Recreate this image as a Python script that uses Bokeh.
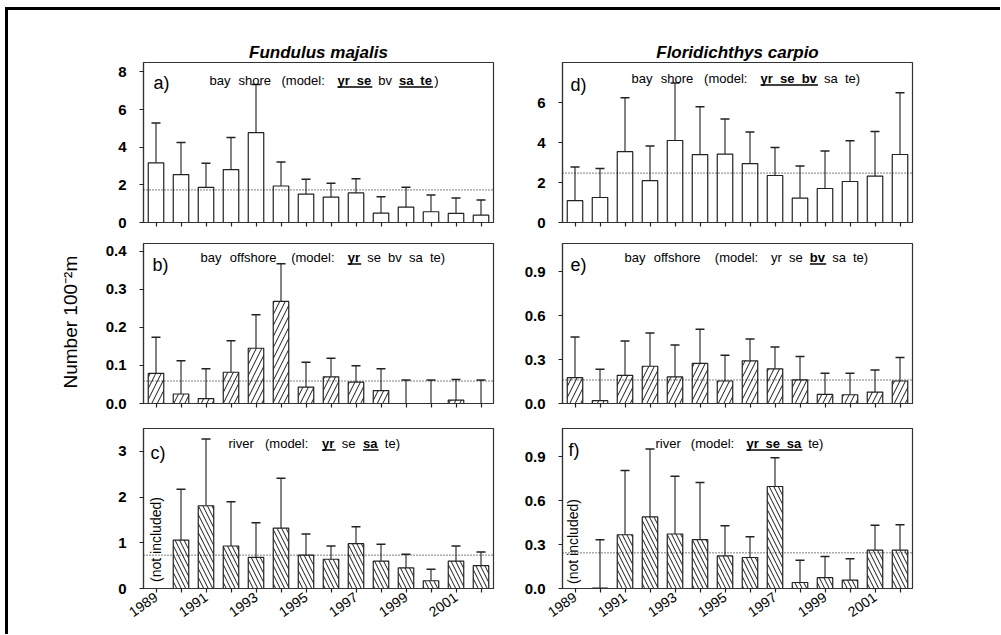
import math
from bokeh.plotting import figure
from bokeh.layouts import row, column
from bokeh.models import Range1d, FixedTicker, Span, Label, Title
from bokeh.embed import file_html
from bokeh.resources import INLINE

# ---------------- data ----------------
years = [1989, 1990, 1991, 1992, 1993, 1994, 1995, 1996, 1997, 1998, 1999, 2000, 2001, 2002]
river_years = [1990, 1991, 1992, 1993, 1994, 1995, 1996, 1997, 1998, 1999, 2000, 2001, 2002]
tick_years = [1989, 1990, 1991, 1992, 1993, 1994, 1995, 1996, 1997, 1998, 1999, 2000, 2001, 2002]
tick_year_labels = ["1989", "", "1991", "", "1993", "", "1995", "", "1997", "", "1999", "", "2001", ""]

species = ["Fundulus majalis", "Floridichthys carpio"]
y_title = "Number 100\u207b\u00b2m"

# Fundulus majalis
fm_shore_mean = [3.17, 2.54, 1.87, 2.81, 4.77, 1.94, 1.51, 1.35, 1.57, 0.50, 0.82, 0.57, 0.48, 0.39]
fm_shore_upper = [5.28, 4.25, 3.15, 4.52, 7.33, 3.22, 2.30, 2.08, 2.33, 1.37, 1.87, 1.46, 1.30, 1.19]
fm_shore_ref = 1.73
fm_off_mean = [0.079, 0.025, 0.013, 0.082, 0.145, 0.268, 0.043, 0.070, 0.056, 0.034, 0.0, 0.0, 0.009, 0.0]
fm_off_upper = [0.174, 0.112, 0.091, 0.165, 0.233, 0.367, 0.108, 0.119, 0.099, 0.091, 0.062, 0.062, 0.063, 0.062]
fm_off_ref = 0.059
fm_river_mean = [1.06, 1.81, 0.93, 0.68, 1.32, 0.73, 0.64, 0.98, 0.60, 0.45, 0.17, 0.60, 0.50]
fm_river_upper = [2.17, 3.27, 1.90, 1.44, 2.41, 1.19, 0.93, 1.35, 0.97, 0.75, 0.42, 0.93, 0.80]
fm_river_ref = 0.73

# Floridichthys carpio
fc_shore_mean = [1.09, 1.25, 3.54, 2.09, 4.10, 3.39, 3.42, 2.94, 2.35, 1.22, 1.70, 2.05, 2.32, 3.40]
fc_shore_upper = [2.77, 2.70, 6.24, 3.82, 6.97, 5.79, 5.17, 4.52, 3.75, 2.82, 3.57, 4.09, 4.55, 6.49]
fc_shore_ref = 2.47
fc_off_mean = [0.177, 0.019, 0.193, 0.255, 0.182, 0.274, 0.154, 0.292, 0.237, 0.161, 0.062, 0.060, 0.078, 0.154]
fc_off_upper = [0.455, 0.235, 0.428, 0.483, 0.400, 0.508, 0.331, 0.441, 0.386, 0.322, 0.207, 0.207, 0.230, 0.315]
fc_off_ref = 0.161
fc_river_mean = [0.002, 0.368, 0.490, 0.373, 0.334, 0.223, 0.212, 0.698, 0.041, 0.074, 0.058, 0.262, 0.262]
fc_river_upper = [0.334, 0.808, 0.955, 0.769, 0.725, 0.430, 0.355, 0.895, 0.193, 0.219, 0.203, 0.433, 0.437]
fc_river_ref = 0.244

ticks_a = [0, 2, 4, 6, 8]
ticks_a_labels = ["0", "2", "4", "6", "8"]
ticks_b = [0.0, 0.1, 0.2, 0.3, 0.4]
ticks_b_labels = ["0.0", "0.1", "0.2", "0.3", "0.4"]
ticks_c = [0, 1, 2, 3]
ticks_c_labels = ["0", "1", "2", "3"]
ticks_d = [0, 2, 4, 6]
ticks_d_labels = ["0", "2", "4", "6"]
ticks_ef = [0.0, 0.3, 0.6, 0.9]
ticks_ef_labels = ["0.0", "0.3", "0.6", "0.9"]

# ---------------- layout constants ----------------
FONT = "Liberation Sans"
FW, FH = 350, 160
X0, X1 = 1988.5, 2002.5
PPX = FW / (X1 - X0)
ORIGIN_X = 8           # 5px margin + 3px frame line
ORIGIN_Y = 10          # 7px margin + 3px frame line
COL_L = [143, 562]     # frame left (page px)
ROW_T = [62, 243, 428] # frame top (page px)

NORM_W = {' ': 278, '(': 333, ')': 333, ':': 278, 'a': 556, 'b': 556, 'c': 500, 'd': 556,
          'e': 556, 'f': 278, 'h': 556, 'i': 222, 'l': 222, 'm': 833, 'n': 556, 'o': 556,
          'r': 333, 's': 500, 't': 278, 'u': 556, 'v': 500, 'y': 500}
BOLD_W = {' ': 278, 'a': 556, 'b': 611, 'e': 556, 'r': 389, 's': 556, 't': 333, 'v': 556, 'y': 556}


def tw(s, bold, fs):
    t = BOLD_W if bold else NORM_W
    return sum(t.get(ch, 556) for ch in s) * fs / 1000.0


class Geo:
    def __init__(self, L, T, ymax):
        self.L, self.T, self.ymax = L, T, ymax

    def x(self, px):
        return X0 + (px - self.L) / PPX

    def y(self, py):
        return self.ymax * (self.T + FH - py) / FH


def make_panel(geo, yticks, ylabels, lb, rb, tb, bb, show_x_labels, title=None):
    p = figure(frame_width=FW, frame_height=FH, x_range=Range1d(X0, X1),
               y_range=Range1d(0, geo.ymax), output_backend="svg", toolbar_location=None,
               title=title, min_border_left=lb, min_border_right=rb,
               min_border_top=tb, min_border_bottom=bb)
    p.grid.visible = False
    p.outline_line_color = "#333333"
    p.outline_line_width = 1.2
    p.background_fill_color = "white"
    p.border_fill_color = "white"
    for ax in (p.xaxis[0], p.yaxis[0]):
        ax.axis_line_color = "#333333"
        ax.axis_line_width = 1.2
        ax.major_tick_line_color = "#222222"
        ax.major_tick_line_width = 1.2
        ax.major_tick_in = 0
        ax.major_tick_out = 4
        ax.minor_tick_line_color = None
    yax = p.yaxis[0]
    yax.ticker = FixedTicker(ticks=yticks)
    yax.major_label_overrides = {t: s for t, s in zip(yticks, ylabels)}
    yax.major_label_text_font = FONT
    yax.major_label_text_font_style = "bold"
    yax.major_label_text_font_size = "15px"
    yax.major_label_text_color = "black"
    yax.major_label_standoff = 13
    xax = p.xaxis[0]
    xax.ticker = FixedTicker(ticks=tick_years)
    if show_x_labels:
        xax.major_label_overrides = {t: s for t, s in zip(tick_years, tick_year_labels)}
        xax.major_label_text_font = FONT
        xax.major_label_text_font_size = "14px"
        xax.major_label_text_color = "black"
        xax.major_label_orientation = 0.61
        xax.major_label_standoff = 3
    else:
        xax.major_label_overrides = {t: "" for t in tick_years}
        xax.major_label_text_font_size = "1px"
        xax.major_label_standoff = 0
    if title is not None:
        p.title.text_font = FONT
        p.title.text_font_style = "bold italic"
        p.title.text_font_size = "17px"
        p.title.align = "center"
        p.title.text_color = "black"
        p.title.standoff = 2
    return p


def draw_bars(p, xs, means, uppers, ref, hatch=None, hscale=10):
    x0 = [x - 0.18 for x in xs]
    x1 = [x + 0.18 for x in xs]
    p.segment(x0=xs, y0=means, x1=xs, y1=uppers, line_color="#5a5a5a", line_width=1.5)
    p.segment(x0=x0, y0=uppers, x1=x1, y1=uppers, line_color="#222222", line_width=1.5)
    kw = dict(fill_color="white", line_color="#222222", line_width=1.2)
    if hatch:
        kw.update(hatch_pattern=hatch, hatch_color="black", hatch_scale=hscale, hatch_weight=0.9)
    p.vbar(x=xs, top=means, bottom=0, width=0.62, **kw)
    p.add_layout(Span(location=ref, dimension="width", line_color="black",
                      line_width=1, line_dash="1 2"))


MID = 0.32  # distance (em) from baseline up to the "middle" anchor


def add_letter(p, geo, txt, px, py, fs=18):
    p.add_layout(Label(x=geo.x(px), y=geo.y(py - MID * fs), text=txt, text_font=FONT,
                       text_font_size=f"{fs}px", text_color="black",
                       text_align="left", text_baseline="middle"))


def add_subtitle(p, geo, segments, x_start, x_end, baseline, fs=13):
    nchar = sum(len(s) for s, _ in segments)
    natural = sum(tw(s, b, fs) for s, b in segments)
    ls = (x_end - x_start - natural) / max(nchar - 1, 1)
    x = x_start
    ul0, ul1, uly = [], [], []

    def put(word, wx, bold):
        p.add_layout(Label(x=geo.x(wx), y=geo.y(baseline - MID * fs), text=word, text_font=FONT,
                           text_font_size=f"{fs}px", text_color="black",
                           text_font_style="bold" if bold else "normal",
                           text_align="left", text_baseline="middle"))

    for s, bold in segments:
        seg_start = x
        word, wx = "", x
        for ch in s:
            if ch == " ":
                if word:
                    put(word, wx, bold)
                word = ""
                x += tw(" ", bold, fs) + ls
            else:
                if not word:
                    wx = x
                word += ch
                x += tw(ch, bold, fs) + ls
        if word:
            put(word, wx, bold)
        if bold:
            ul0.append(geo.x(seg_start))
            ul1.append(geo.x(x - ls))
            uly.append(geo.y(baseline + 2.5))
    if ul0:
        p.segment(x0=ul0, y0=uly, x1=ul1, y1=uly, line_color="black", line_width=1.4)


def add_not_included(p, geo, px, py):
    p.add_layout(Label(x=geo.x(px), y=geo.y(py), text="(not included)", text_font=FONT,
                       text_font_size="14px", text_color="black", angle=math.pi / 2,
                       text_align="center", text_baseline="middle"))


# ---------------- panels ----------------
gA = Geo(COL_L[0], ROW_T[0], 8.5)
gB = Geo(COL_L[0], ROW_T[1], 0.42)
gC = Geo(COL_L[0], ROW_T[2], 3.5)
gD = Geo(COL_L[1], ROW_T[0], 8.0)
gE = Geo(COL_L[1], ROW_T[1], 1.095)
gF = Geo(COL_L[1], ROW_T[2], 1.095)

LB1 = COL_L[0] - ORIGIN_X
RB1 = 10
LB2 = COL_L[1] - (ORIGIN_X + LB1 + FW + RB1)
RB2 = 1000 - COL_L[1] - FW
TB1 = ROW_T[0] - ORIGIN_Y
BB1 = ROW_T[1] - (ROW_T[0] + FH)
BB2 = ROW_T[2] - (ROW_T[1] + FH)
BB3 = 634 - (ROW_T[2] + FH)

pa = make_panel(gA, ticks_a, ticks_a_labels, LB1, RB1, TB1, BB1, False, species[0])
pb = make_panel(gB, ticks_b, ticks_b_labels, LB1, RB1, 0, BB2, False)
pc = make_panel(gC, ticks_c, ticks_c_labels, LB1, RB1, 0, BB3, True)
pd = make_panel(gD, ticks_d, ticks_d_labels, LB2, RB2, TB1, BB1, False, species[1])
pe = make_panel(gE, ticks_ef, ticks_ef_labels, LB2, RB2, 0, BB2, False)
pf = make_panel(gF, ticks_ef, ticks_ef_labels, LB2, RB2, 0, BB3, True)

draw_bars(pa, years, fm_shore_mean, fm_shore_upper, fm_shore_ref)
draw_bars(pb, years, fm_off_mean, fm_off_upper, fm_off_ref, "right_diagonal_line", 11)
draw_bars(pc, river_years, fm_river_mean, fm_river_upper, fm_river_ref, "left_diagonal_line", 9)
draw_bars(pd, years, fc_shore_mean, fc_shore_upper, fc_shore_ref)
draw_bars(pe, years, fc_off_mean, fc_off_upper, fc_off_ref, "right_diagonal_line", 11)
draw_bars(pf, river_years, fc_river_mean, fc_river_upper, fc_river_ref, "left_diagonal_line", 9)

add_letter(pa, gA, "a)", 153, 88)
add_letter(pb, gB, "b)", 152, 270)
add_letter(pc, gC, "c)", 150, 458)
add_letter(pd, gD, "d)", 570, 90)
add_letter(pe, gE, "e)", 570, 270)
add_letter(pf, gF, "f)", 568, 455)

add_subtitle(pa, gA, [("bay shore (model: ", False), ("yr se", True), (" bv ", False),
                      ("sa te", True), (")", False)], 209, 438, 84)
add_subtitle(pb, gB, [("bay offshore (model: ", False), ("yr", True),
                      (" se bv sa te)", False)], 200, 447, 261)
add_subtitle(pc, gC, [("river (model: ", False), ("yr", True), (" se ", False),
                      ("sa", True), (" te)", False)], 228, 402, 447)
add_subtitle(pd, gD, [("bay shore (model: ", False), ("yr se bv", True),
                      (" sa te)", False)], 631, 862, 82)
add_subtitle(pe, gE, [("bay offshore (model: yr se ", False), ("bv", True),
                      (" sa te)", False)], 624, 870, 261)
add_subtitle(pf, gF, [("river (model: ", False), ("yr se sa", True),
                      (" te)", False)], 655, 825, 447)

add_not_included(pc, gC, 155, 539)
add_not_included(pf, gF, 572, 541)

# y-axis title, left of panel b (starts 15px above the frame bottom)
pb.add_layout(Title(text=y_title, align="left", offset=15, standoff=44,
                    text_font=FONT, text_font_size="19px", text_font_style="normal",
                    text_color="black"), "left")

layout = column(row(pa, pd), row(pb, pe), row(pc, pf),
                styles={"margin-top": "7px", "margin-left": "5px",
                        "border-top": "3px solid black", "border-left": "3px solid black"})

open("out.html", "w").write(file_html(layout, INLINE))
